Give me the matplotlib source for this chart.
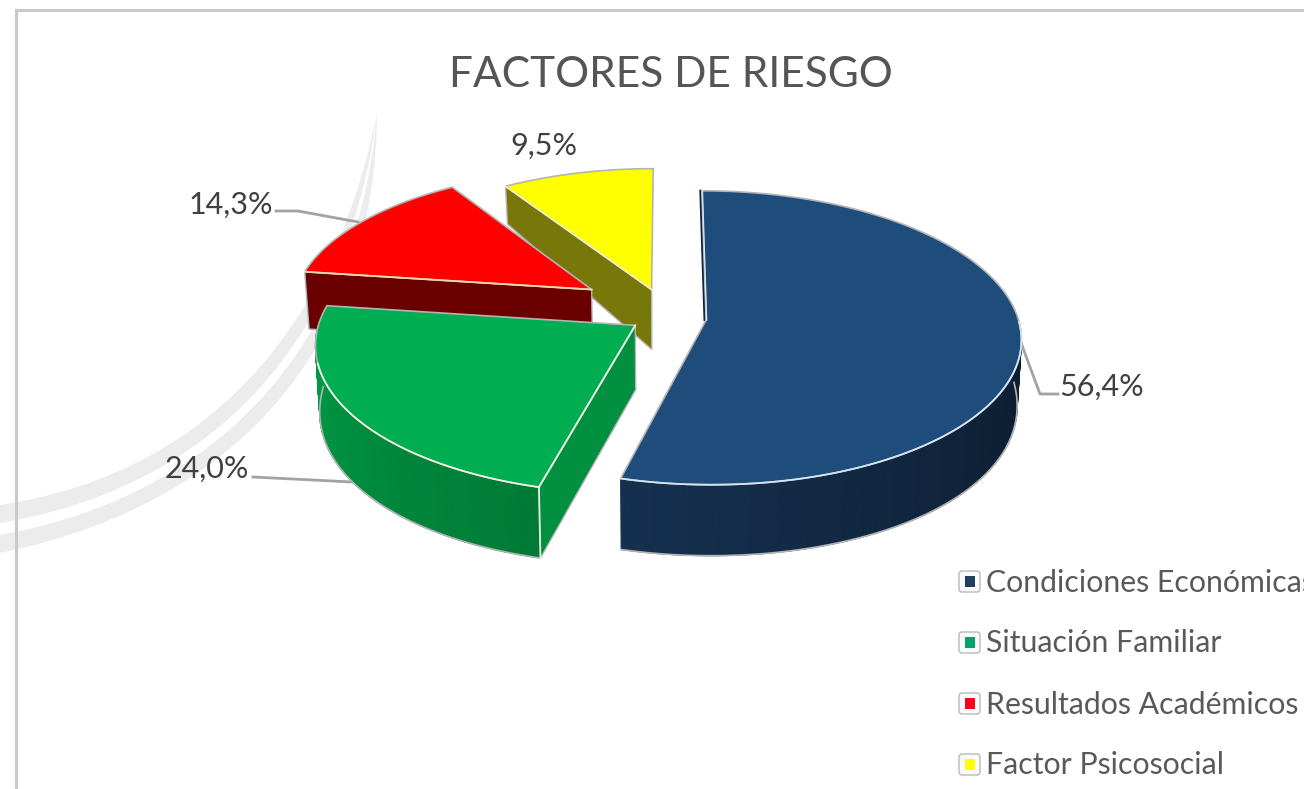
import numpy as np
import matplotlib
matplotlib.use("Agg")
import matplotlib.pyplot as plt
from matplotlib.patches import Polygon, PathPatch, FancyBboxPatch, Rectangle
from matplotlib.path import Path
from matplotlib.collections import PolyCollection
from matplotlib.colors import LinearSegmentedColormap

title = "FACTORES DE RIESGO"
categories = ["Condiciones Económicas", "Situación Familiar", "Resultados Académicos", "Factor Psicosocial"]
values = [56.4, 24.0, 14.3, 9.5]
labels = ["56,4%", "24,0%", "14,3%", "9,5%"]

top_colors = ["#1e4d7b", "#00ad50", "#fe0000", "#ffff00"]
side_from = ["#15304f", "#007a35", "#6e0000", "#7a7a00"]
side_to = ["#0b1a2c", "#009c47", "#6e0000", "#7a7a00"]
face_colors = ["#10243c", "#00903f", "#6b0000", "#77770a"]
legend_colors = ["#243f5c", "#00a468", "#fe0018", "#ffff00"]
highlight = ["#d5e4f2", "#e8f4e4", "#f0d8a8", "#f5f5c0"]
explode_u = [0.124, -0.10, -0.245, -0.05]
explode_v = [-0.014, -0.05, 0.20, 0.20]
radius = [0.99, 1.0, 0.96, 0.97]

plt.rcParams["font.family"] = ["Lato", "DejaVu Sans"]
fig = plt.figure(figsize=(13.04, 7.89), dpi=100)
ax = fig.add_axes([0, 0, 1, 1])
ax.set_xlim(0, 1304)
ax.set_ylim(789, 0)
ax.axis("off")

# faint background swooshes and chart frame
SW = "#ececec"
for verts in [[(377, 113), (340, 300), (230, 470), (0, 505), (0, 523), (240, 482), (352, 312), (377, 113)],
              [(377, 113), (360, 318), (245, 490), (0, 535), (0, 553), (258, 500), (376, 325), (377, 113)]]:
    codes = [Path.MOVETO, Path.CURVE4, Path.CURVE4, Path.CURVE4, Path.LINETO, Path.CURVE4, Path.CURVE4, Path.CURVE4]
    ax.add_patch(PathPatch(Path(verts, codes), fc=SW, ec="none", zorder=1))
ax.plot([16, 16, 1304], [789, 10, 10], color="#c9c9c9", lw=2.2, zorder=2, solid_joinstyle="miter")

# perspective projection of the pie plane
CX, CY, RX, RY, K = 667.0, 318.0, 315.0, 145.8, 0.1216


def project(u, v, drop=False):
    s = 1 / (1 + K * v)
    x = CX + RX * u * s
    y = CY - RY * v * s
    if drop:
        x = CX + (x - CX) * 0.988
        y = y + 63.6 - 16.3 * v - 8.94 * v * v
    return x, y


def rim(i, th, drop=False):
    return project(explode_u[i] + radius[i] * np.sin(th),
                   explode_v[i] + radius[i] * np.cos(th), drop)


fractions = np.array(values) / np.sum(values)
edges = np.concatenate([[0], np.cumsum(fractions)]) * 2 * np.pi

EDGE = "#b4b4b4"
for i in [3, 2, 1, 0]:
    t0, t1 = edges[i], edges[i + 1]
    u0, v0 = explode_u[i], explode_v[i]
    z = 10 + (3 - i) * 2
    th = np.linspace(t0, t1, 160)

    # radial side face at the start angle, when it faces the viewer
    if np.sin(t0) < 0:
        pts = [project(u0, v0), rim(i, t0), rim(i, t0, True), project(u0, v0, True)]
        ax.add_patch(Polygon(pts, closed=True, fc=face_colors[i], ec=EDGE, lw=1.0, zorder=z))

    # outer side wall, front half only
    cm = LinearSegmentedColormap.from_list("s", [side_from[i], side_to[i]])
    front = th[np.cos(th) < 0.02]
    if front.size > 1:
        quads = []
        for a, b in zip(front[:-1], front[1:]):
            quads.append([rim(i, a), rim(i, b), rim(i, b, True), rim(i, a, True)])
        pos = (front[:-1] - front[0]) / (front[-1] - front[0])
        shades = [cm(p if i == 1 else 1 - p) for p in pos]
        ax.add_collection(PolyCollection(quads, facecolors=shades, edgecolors=shades, linewidths=0.8, zorder=z))
        bx, by = zip(*[rim(i, a, True) for a in front])
        ax.plot(bx, by, color=EDGE, lw=1.2, zorder=z + 0.2)

    # top face
    xy = [project(u0, v0)] + [rim(i, a) for a in th]
    ax.add_patch(Polygon(xy, closed=True, fc=top_colors[i], ec=EDGE, lw=1.2, zorder=z + 0.4))
    hi = th[np.cos(th) < (0.0 if i == 0 else -0.25)]
    if hi.size > 1:
        fx, fy = zip(*[rim(i, a) for a in hi])
        ax.plot(fx, fy, color=highlight[i], lw=1.3, zorder=z + 0.5)
    if np.sin(t0) < 0:
        sx, sy = zip(project(u0, v0), rim(i, t0))
        ax.plot(sx, sy, color=highlight[i], lw=1.3, zorder=z + 0.5)
    if i == 1:
        sx, sy = zip(rim(i, t0), rim(i, t0, True))
        ax.plot(sx, sy, color=highlight[i], lw=1.3, zorder=z + 0.5)
    if i == 0:
        # thin dark sliver along the slice's back edge
        sx, sy = zip(rim(i, t0), project(u0, v0))
        ax.plot(np.array(sx) - 1.5, sy, color=face_colors[0], lw=1.6, zorder=z + 0.3)
        ax.plot(np.array(sx) + 0.5, sy, color=highlight[0], lw=1.0, zorder=z + 0.5)

# leader lines
LEAD = "#a3a3a3"
ax.plot([276, 298, 358], [211, 211, 222], color=LEAD, lw=2, zorder=5)
ax.plot([253, 352], [477, 482], color=LEAD, lw=2, zorder=5)
ax.plot([1058, 1040, 1020], [394, 394, 340], color=LEAD, lw=2, zorder=5)

# text
TXT = "#404040"
ax.text(671, 75, title, ha="center", va="center", fontsize=30.5, color="#555555", zorder=30)
ax.text(1102, 387, labels[0], ha="center", va="center", fontsize=22, color=TXT, zorder=30)
ax.text(207, 469, labels[1], ha="center", va="center", fontsize=22, color=TXT, zorder=30)
ax.text(231, 205, labels[2], ha="center", va="center", fontsize=22, color=TXT, zorder=30)
ax.text(544, 146, labels[3], ha="center", va="center", fontsize=22, color=TXT, zorder=30)

# legend
for i, yc in enumerate([581, 642, 703, 764]):
    ax.add_patch(FancyBboxPatch((959, yc - 10), 21, 21, boxstyle="round,pad=0,rounding_size=3",
                                fc="#f8fbfd", ec="#b9b9b9", lw=1.0, zorder=20))
    ax.add_patch(Rectangle((964.5, yc - 5), 10.5, 11, fc=legend_colors[i], ec="none", zorder=21))
    ax.text(986, yc + 1.5, categories[i], ha="left", va="center", fontsize=21.8, color="#595959", zorder=30)

fig.savefig("out.png", dpi=100)
